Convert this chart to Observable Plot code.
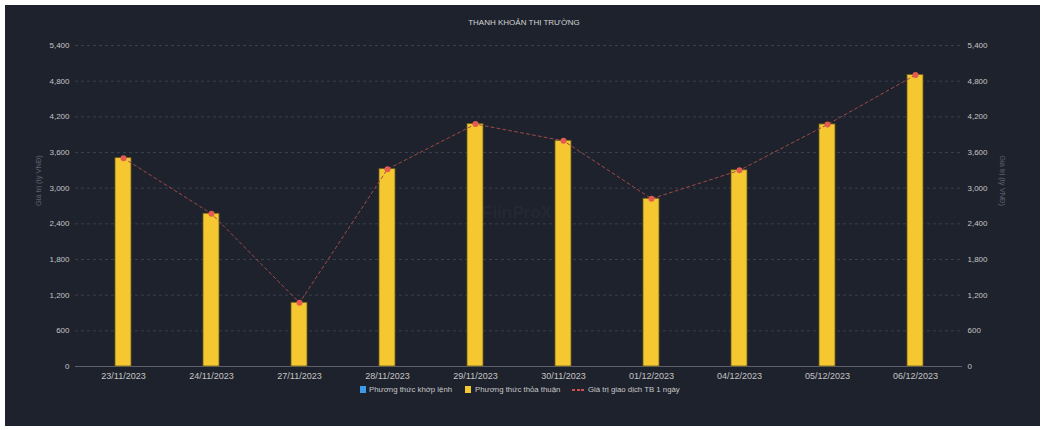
<!DOCTYPE html>
<html><head><meta charset="utf-8">
<script src="https://cdn.jsdelivr.net/npm/d3@7"></script>
<script src="https://cdn.jsdelivr.net/npm/@observablehq/plot@0.6"></script>
<style>
body{margin:0;background:#fff;width:1048px;height:430px;overflow:hidden;position:relative;font-family:"Liberation Sans",Arial,sans-serif;}
#panel{position:absolute;left:5px;top:5px;width:1035px;height:421px;background:#1e222d;}
#chart{position:absolute;left:0;top:0;}
#title{position:absolute;top:18px;left:0;width:1048px;text-align:center;color:#d4d4d4;font-size:8px;}
#watermark{position:absolute;left:482px;top:203px;color:rgba(255,255,255,0.035);font-size:17px;font-weight:bold;}
.lg{position:absolute;top:385px;font-size:7.8px;color:#c8c8c8;white-space:nowrap;}
.sw{position:absolute;top:386px;width:6px;height:7px;}
.dash{position:absolute;top:389px;width:3px;height:1.5px;background:#d05050;}
</style></head>
<body>
<div id="panel"></div>
<div id="watermark">FiinProX</div>
<div id="chart"></div>
<div id="title">THANH KHOẢN THỊ TRƯỜNG</div>
<div class="sw" style="left:360px;background:#3d9be9"></div>
<div class="lg" style="left:369px">Phương thức khớp lệnh</div>
<div class="sw" style="left:465px;background:#f5c832"></div>
<div class="lg" style="left:475px">Phương thức thỏa thuận</div>
<div class="dash" style="left:572px"></div>
<div class="dash" style="left:576.5px"></div>
<div class="dash" style="left:581px"></div>
<div class="lg" style="left:588px">Giá trị giao dịch TB 1 ngày</div>
<script>
const dates = ["23/11/2023","24/11/2023","27/11/2023","28/11/2023","29/11/2023","30/11/2023","01/12/2023","04/12/2023","05/12/2023","06/12/2023"];
const thoaThuan = [3505, 2570, 1072, 3320, 4078, 3797, 2822, 3300, 4072, 4904];
const tbMotNgay = [3505, 2570, 1072, 3320, 4078, 3797, 2822, 3300, 4072, 4904];
const yTicks = [0, 600, 1200, 1800, 2400, 3000, 3600, 4200, 4800, 5400];
const yLabel = "Giá trị (tỷ VNĐ)";

const data = dates.map((d, i) => ({date: d, thoaThuan: thoaThuan[i], avg: tbMotNgay[i]}));

const chart = Plot.plot({
  width: 1048, height: 430,
  marginLeft: 75, marginRight: 86, marginTop: 45, marginBottom: 64,
  style: {background: "transparent", color: "#c4c4c4", fontFamily: "'Liberation Sans', Arial, sans-serif", fontSize: "8px"},
  x: {domain: dates, type: "band", paddingInner: 0.82, paddingOuter: 0.41, label: null},
  y: {domain: [0, 5400], label: null},
  marks: [
    Plot.gridY(yTicks, {stroke: "#3a3f4c", strokeOpacity: 1, strokeDasharray: "3,3"}),
    Plot.ruleY([0], {stroke: "#5c606a"}),
    Plot.barY(data, {x: "date", y: "thoaThuan", fill: "#f5c832", stroke: "#6e5d1c", strokeWidth: 0.8}),
    Plot.line(data, {x: "date", y: "avg", stroke: "#a04848", strokeDasharray: "3,3", strokeWidth: 1}),
    Plot.dot(data, {x: "date", y: "avg", r: 3, fill: "#e35a50", stroke: "none"}),
    Plot.axisX({tickSize: 0, tickPadding: 6, fontSize: 9, label: null}),
    Plot.axisY(yTicks, {anchor: "left", tickSize: 0, tickPadding: 6, tickFormat: d3.format(","), label: null}),
    Plot.axisY(yTicks, {anchor: "right", tickSize: 0, tickPadding: 5, tickFormat: d3.format(","), label: null}),
    Plot.text([yLabel], {frameAnchor: "left", dx: -37, rotate: -90, fill: "#5d626d", fontSize: 7.5}),
    Plot.text([yLabel], {frameAnchor: "right", dx: 40, rotate: 90, fill: "#5d626d", fontSize: 7.5})
  ]
});
document.getElementById("chart").appendChild(chart);
</script>
</body></html>
